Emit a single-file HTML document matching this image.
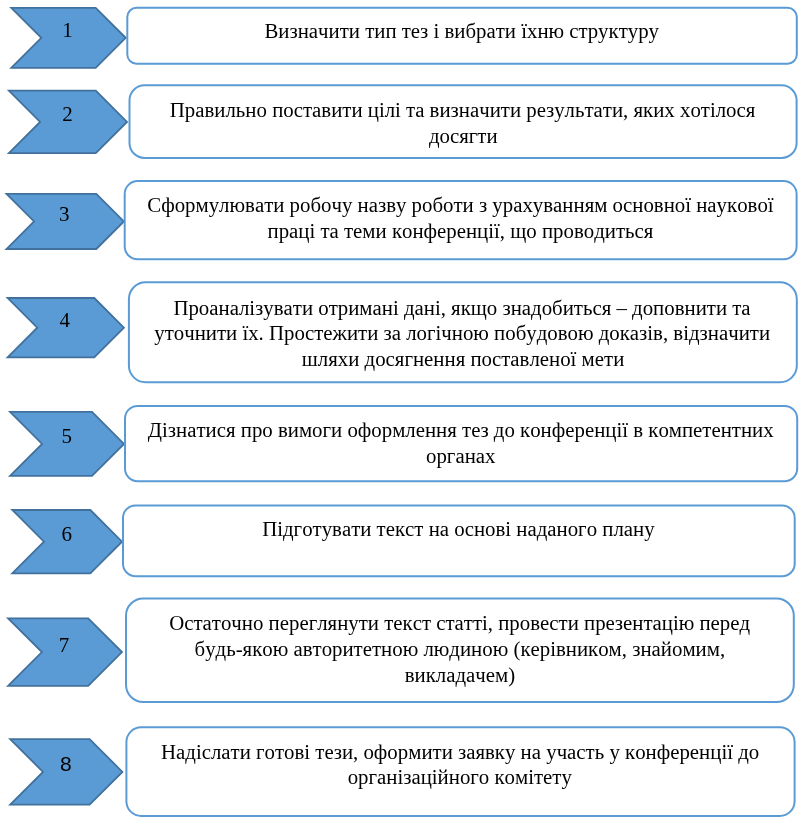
<!DOCTYPE html>
<html><head><meta charset="utf-8"><style>
html,body{margin:0;padding:0;background:#fff;width:806px;height:826px;overflow:hidden}
svg{display:block;will-change:transform}
</style></head><body>
<svg width="806" height="826" viewBox="0 0 806 826" fill="#000">
<polygon points="11.3,7.8 95.65,7.8 125.7,37.85 95.65,67.9 11.3,67.9 41.35,37.85" fill="#5B9BD5" stroke="#41719C" stroke-width="1.8"/>
<text x="67.56" y="37.4" font-family="Liberation Serif" font-size="21" text-anchor="middle">1</text>
<rect x="127.3" y="7.8" width="669.5" height="56.0" rx="9.3" ry="9.3" fill="#fff" stroke="#5B9BD5" stroke-width="2"/>
<polygon points="8.9,90.7 95.80,90.7 127,121.90 95.80,153.1 8.9,153.1 40.10,121.90" fill="#5B9BD5" stroke="#41719C" stroke-width="1.8"/>
<text x="67.58" y="121.4" font-family="Liberation Serif" font-size="21" text-anchor="middle">2</text>
<rect x="129.5" y="85.3" width="667.1" height="72.6" rx="15.0" ry="15.0" fill="#fff" stroke="#5B9BD5" stroke-width="2"/>
<polygon points="6.5,193.8 96.30,193.8 123.9,221.40 96.30,249 6.5,249 34.10,221.40" fill="#5B9BD5" stroke="#41719C" stroke-width="1.8"/>
<text x="64.26" y="220.9" font-family="Liberation Serif" font-size="21" text-anchor="middle">3</text>
<rect x="124.7" y="181.1" width="671.9" height="78.2" rx="13.0" ry="13.0" fill="#fff" stroke="#5B9BD5" stroke-width="2"/>
<polygon points="7.6,298 94.25,298 123.9,327.65 94.25,357.3 7.6,357.3 37.25,327.65" fill="#5B9BD5" stroke="#41719C" stroke-width="1.8"/>
<text x="64.87" y="327.1" font-family="Liberation Serif" font-size="21" text-anchor="middle">4</text>
<rect x="128.9" y="282.3" width="667.9" height="100.0" rx="16.7" ry="16.7" fill="#fff" stroke="#5B9BD5" stroke-width="2"/>
<polygon points="10.1,411.9 92.00,411.9 124,443.90 92.00,475.9 10.1,475.9 42.10,443.90" fill="#5B9BD5" stroke="#41719C" stroke-width="1.8"/>
<text x="66.85" y="443.4" font-family="Liberation Serif" font-size="21" text-anchor="middle">5</text>
<rect x="125" y="405.9" width="672.2" height="75.3" rx="12.6" ry="12.6" fill="#fff" stroke="#5B9BD5" stroke-width="2"/>
<polygon points="12.3,510 90.35,510 122,541.65 90.35,573.3 12.3,573.3 43.95,541.65" fill="#5B9BD5" stroke="#41719C" stroke-width="1.8"/>
<text x="66.75" y="541.1" font-family="Liberation Serif" font-size="21" text-anchor="middle">6</text>
<rect x="123" y="505.5" width="671.7" height="70.7" rx="12.5" ry="12.5" fill="#fff" stroke="#5B9BD5" stroke-width="2"/>
<polygon points="8.1,618.3 88.20,618.3 122,652.10 88.20,685.9 8.1,685.9 41.90,652.10" fill="#5B9BD5" stroke="#41719C" stroke-width="1.8"/>
<text x="64.11" y="651.6" font-family="Liberation Serif" font-size="21" text-anchor="middle">7</text>
<rect x="126" y="598.4" width="667.8" height="103.6" rx="17.3" ry="17.3" fill="#fff" stroke="#5B9BD5" stroke-width="2"/>
<polygon points="10.2,739.1 89.60,739.1 122.4,771.90 89.60,804.7 10.2,804.7 43.00,771.90" fill="#5B9BD5" stroke="#41719C" stroke-width="1.8"/>
<text x="65.81" y="771.4" font-family="Liberation Sans" font-size="21" text-anchor="middle">8</text>
<rect x="126.4" y="727.3" width="668.2" height="88.7" rx="14.8" ry="14.8" fill="#fff" stroke="#5B9BD5" stroke-width="2"/>
<text x="264.40 278.29 289.44 297.66 308.81 318.06 328.53 339.68 348.78 359.93 365.14 374.24 385.39 396.54 401.74 410.85 420.09 428.32 433.53 439.31 444.52 454.36 465.50 476.10 486.52 495.76 504.87 516.01 521.22 527.01 537.42 548.57 564.13 569.34 578.58 587.69 598.10 608.52 618.64 627.74 638.16 648.57" y="37.7" font-family="Liberation Serif" font-size="20.83">Визначити тип тез і вибрати їхню структуру</text>
<text x="169.79 184.83 195.25 204.49 214.33 225.47 235.87 245.37 256.52 266.93 272.14 283.29 293.70 302.95 312.05 321.29 331.13 342.28 351.38 362.53 367.73 378.88 384.67 395.06 400.85 406.06 415.16 424.41 429.61 439.45 450.60 458.83 469.97 479.22 489.69 500.84 509.94 521.09 526.30 536.71 545.96 554.19 564.60 575.00 584.50 593.60 602.85 611.95 623.10 628.30 633.51 643.09 653.21 664.36 674.77 679.98 690.40 700.81 709.91 715.70 726.10 736.51 745.76" y="116.8" font-family="Liberation Serif" font-size="20.83">Правильно поставити цілі та визначити результати, яких хотілося</text>
<text x="428.93 439.53 449.94 459.19 468.77 477.31 486.41" y="142.6" font-family="Liberation Serif" font-size="20.83">досягти</text>
<text x="147.29 161.18 174.68 185.10 195.51 208.69 219.11 229.50 245.06 254.90 264.14 273.25 284.40 289.60 300.02 310.43 321.03 331.45 341.92 352.34 357.54 368.69 377.94 386.17 396.00 406.42 411.62 422.04 432.45 443.05 453.47 462.57 473.72 478.92 487.15 492.36 502.77 513.19 522.43 532.85 543.26 553.10 562.35 573.49 584.64 594.22 607.40 612.61 623.02 632.27 643.42 653.83 663.67 674.82 685.23 691.02 696.22 707.37 716.62 727.03 737.15 747.57 757.40 767.82" y="212.1" font-family="Liberation Serif" font-size="20.83">Сформулювати робочу назву роботи з урахуванням основної наукової</text>
<text x="267.49 278.64 289.05 298.30 309.44 315.23 320.44 329.54 338.79 343.99 353.10 362.34 375.52 386.67 391.88 402.00 412.41 423.56 437.06 446.30 456.72 465.96 477.11 488.26 494.05 499.83 505.04 510.25 526.29 536.70 541.91 553.06 563.47 573.89 583.72 594.14 604.74 615.88 624.99 634.49 643.73" y="237.8" font-family="Liberation Serif" font-size="20.83">праці та теми конференції, що проводиться</text>
<text x="173.38 188.42 198.84 209.25 218.50 229.64 238.89 249.28 255.07 263.30 273.71 283.55 292.79 301.90 313.04 318.25 328.67 337.77 348.19 359.33 372.51 381.76 392.91 398.69 403.90 414.50 423.74 434.89 440.68 445.89 451.09 460.68 470.80 486.83 497.25 502.46 510.69 521.83 531.08 541.68 552.09 562.69 573.84 582.94 592.44 601.68 611.27 616.47 626.89 632.10 642.69 653.11 664.26 674.67 684.51 695.65 706.80 715.90 727.05 732.26 741.36" y="314.8" font-family="Liberation Serif" font-size="20.83">Проаналізувати отримані дані, якщо знадобиться – доповнити та</text>
<text x="154.25 164.66 173.77 184.18 194.66 205.80 216.95 226.05 237.20 242.41 248.20 258.61 263.82 269.03 284.07 294.48 304.90 314.14 323.25 332.49 346.88 358.03 367.14 378.28 383.49 391.72 400.96 406.17 416.57 426.98 435.52 441.31 451.79 462.93 473.35 488.91 494.12 505.27 515.68 526.28 536.69 547.29 557.71 567.54 577.96 593.52 598.73 609.32 619.74 629.86 639.11 647.33 653.12 662.96 668.16 673.37 683.21 688.99 699.59 707.82 718.97 728.21 738.69 749.84 758.94" y="340.0" font-family="Liberation Serif" font-size="20.83">уточнити їх. Простежити за логічною побудовою доказів, відзначити</text>
<text x="301.79 317.83 328.22 337.80 348.22 359.36 364.57 375.17 385.58 394.83 404.41 412.95 424.10 433.35 444.49 455.64 465.22 470.43 481.58 491.99 501.24 510.34 519.59 529.42 539.82 549.06 560.21 570.62 576.41 581.62 594.80 604.05 613.15" y="366.0" font-family="Liberation Serif" font-size="20.83">шляхи досягнення поставленої мети</text>
<text x="147.84 162.05 167.83 176.06 187.21 196.45 205.56 216.71 225.95 235.53 240.74 251.89 262.30 272.72 277.92 287.76 298.91 312.09 322.50 331.05 342.19 347.40 357.82 371.31 381.73 392.14 405.32 415.72 424.96 436.11 447.26 456.84 462.05 471.15 480.40 488.62 493.83 504.43 514.84 520.05 530.17 540.59 551.73 565.23 574.48 584.89 594.14 605.28 616.43 622.22 628.01 633.21 643.05 648.26 658.38 668.79 681.97 693.12 702.37 711.47 720.71 731.86 740.96 752.11 763.26" y="436.8" font-family="Liberation Serif" font-size="20.83">Дізнатися про вимоги оформлення тез до конференції в компетентних</text>
<text x="426.02 436.43 446.85 455.39 464.64 475.78 485.03" y="462.5" font-family="Liberation Serif" font-size="20.83">органах</text>
<text x="262.17 277.22 283.00 293.60 302.15 312.56 321.66 332.08 341.91 351.16 360.26 371.41 376.62 385.72 394.96 405.08 414.33 423.43 428.64 439.79 449.03 454.24 464.66 473.90 485.05 495.46 505.30 511.09 516.29 527.44 536.69 547.28 556.53 567.68 578.09 586.64 597.05 602.26 613.41 623.80 633.05 644.19" y="536.2" font-family="Liberation Serif" font-size="20.83">Підготувати текст на основі наданого плану</text>
<text x="169.20 184.24 193.49 202.59 211.84 220.94 231.36 241.83 252.98 263.39 268.60 279.75 288.99 299.41 308.65 317.20 327.59 337.17 348.32 358.74 367.84 378.99 384.19 393.30 402.54 412.66 421.91 431.01 436.22 445.46 454.57 463.81 472.91 482.02 487.80 493.01 498.22 509.37 519.78 530.20 540.03 549.28 558.52 567.63 578.77 583.98 595.13 605.54 614.79 623.02 632.26 643.41 652.51 661.76 672.90 678.69 694.25 699.46 710.61 719.85 730.27 739.51" y="630.2" font-family="Liberation Serif" font-size="20.83">Остаточно переглянути текст статті, провести презентацію перед</text>
<text x="194.53 205.13 215.54 226.14 235.64 242.58 252.16 262.28 272.69 288.26 293.46 302.71 312.54 321.65 332.06 342.48 353.62 362.73 371.97 381.07 392.22 402.64 418.20 423.41 433.80 449.36 459.96 471.11 482.25 492.67 508.23 513.44 520.38 530.50 539.74 550.16 555.94 565.78 576.93 588.07 598.19 608.61 621.79 627.00 632.20 640.43 651.58 660.83 671.97 682.39 695.57 706.72 719.90" y="655.9" font-family="Liberation Serif" font-size="20.83">будь-якою авторитетною людиною (керівником, знайомим,</text>
<text x="404.74 414.57 425.72 435.84 446.23 455.48 466.08 475.32 485.80 495.04 508.23" y="681.6" font-family="Liberation Serif" font-size="20.83">викладачем)</text>
<text x="160.99 176.03 185.28 195.88 201.66 210.91 221.30 230.55 239.65 250.80 256.01 264.55 274.97 284.07 294.48 304.32 310.11 315.31 324.42 333.66 341.89 353.04 358.25 363.45 373.87 387.36 397.78 408.19 421.38 432.52 441.63 452.77 457.98 466.21 475.45 485.04 494.87 504.99 515.41 520.61 531.76 541.01 546.21 556.63 567.10 576.35 585.60 594.70 604.20 609.41 619.82 625.03 635.15 645.56 656.71 670.21 679.45 689.87 699.11 710.26 721.41 727.19 732.98 738.19 748.79" y="758.8" font-family="Liberation Serif" font-size="20.83">Надіслати готові тези, оформити заявку на участь у конференції до</text>
<text x="347.64 358.06 368.47 377.01 386.26 397.41 403.19 411.42 420.67 431.81 437.60 448.75 459.90 470.31 478.86 489.27 494.48 504.60 515.01 528.19 533.98 543.08 552.33 561.43" y="784.0" font-family="Liberation Serif" font-size="20.83">організаційного комітету</text>
</svg>
</body></html>
